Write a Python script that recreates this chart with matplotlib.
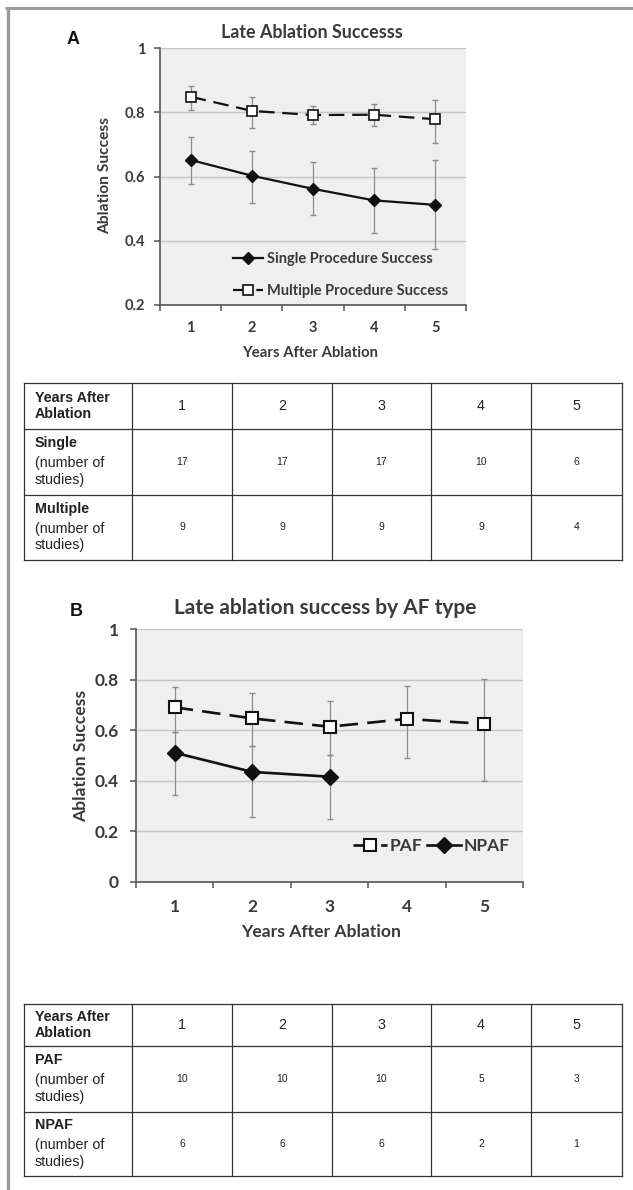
import matplotlib
matplotlib.use("Agg")
import matplotlib.pyplot as plt

# ---------------- data ----------------
years = [1, 2, 3, 4, 5]
year_labels = ["1", "2", "3", "4", "5"]

single_mean = [0.652, 0.603, 0.562, 0.526, 0.512]
single_hi = [0.725, 0.681, 0.645, 0.628, 0.651]
single_lo = [0.577, 0.518, 0.480, 0.425, 0.374]

multi_mean = [0.849, 0.805, 0.792, 0.793, 0.779]
multi_hi = [0.882, 0.847, 0.821, 0.827, 0.839]
multi_lo = [0.808, 0.751, 0.763, 0.758, 0.704]

paf_mean = [0.691, 0.647, 0.614, 0.645, 0.625]
paf_hi = [0.773, 0.746, 0.716, 0.777, 0.804]
paf_lo = [0.592, 0.539, 0.502, 0.489, 0.398]

npaf_years = [1, 2, 3]
npaf_mean = [0.511, 0.435, 0.416]
npaf_hi = [0.592, 0.539, 0.502]
npaf_lo = [0.345, 0.255, 0.247]

yticks_a = [0.2, 0.4, 0.6, 0.8, 1.0]
ytick_labels_a = ["0.2", "0.4", "0.6", "0.8", "1"]
yticks_b = [0, 0.2, 0.4, 0.6, 0.8, 1.0]
ytick_labels_b = ["0", "0.2", "0.4", "0.6", "0.8", "1"]

table_a_rows = [("Single", [17, 17, 17, 10, 6]),
                ("Multiple", [9, 9, 9, 9, 4])]
table_b_rows = [("PAF", [10, 10, 10, 5, 3]),
                ("NPAF", [6, 6, 6, 2, 1])]
table_header = "Years After\nAblation"
row_sub = "(number of\nstudies)"

# ---------------- layout helpers ----------------
W, H = 633, 1190
fig = plt.figure(figsize=(W / 100, H / 100), dpi=100)
FONT = "Lato"
TFONT = "Liberation Sans"
INK = "#3a3a3a"


def rect(l, t, r, b):
    return [l / W, 1 - b / H, (r - l) / W, (b - t) / H]


def ftext(x, y, s, **kw):
    fig.text(x / W, 1 - y / H, s, **kw)


def errs(mean, lo, hi):
    return [[m - l for m, l in zip(mean, lo)], [h - m for m, h in zip(mean, hi)]]


def style_axes(ax, ymin, yticks, ylabels, tick_fs, pad_x, pad_y, tlen):
    ax.set_facecolor("#efefef")
    ax.set_xlim(0.5, 5.5)
    ax.set_ylim(ymin, 1.0)
    ax.set_yticks(yticks)
    ax.set_yticklabels(ylabels, fontfamily=FONT, fontweight="bold",
                       fontsize=tick_fs, color=INK)
    ax.set_xticks(years)
    ax.set_xticklabels(year_labels, fontfamily=FONT, fontweight="bold",
                       fontsize=tick_fs, color=INK)
    ax.set_xticks([y + 0.5 for y in [0] + years], minor=True)
    ax.tick_params(axis="x", which="major", length=0, pad=pad_x)
    ax.tick_params(axis="x", which="minor", length=tlen, width=1.1,
                   color="#555555", direction="out")
    ax.tick_params(axis="y", which="major", length=tlen, width=1.1,
                   color="#555555", direction="out", pad=pad_y)
    ax.grid(axis="y", color="#c6c6c6", linewidth=1.0)
    ax.set_axisbelow(True)
    for s in ("top", "right"):
        ax.spines[s].set_visible(False)
    for s in ("left", "bottom"):
        ax.spines[s].set_color("#555555")
        ax.spines[s].set_linewidth(1.2)


# ---------------- panel A ----------------
axA = fig.add_axes(rect(160, 48.3, 466, 305))
style_axes(axA, 0.2, yticks_a, ytick_labels_a, 10.5, 11.5, 6, 4.5)
axA.errorbar(years, single_mean, yerr=errs(single_mean, single_lo, single_hi),
             fmt="none", ecolor="#8c8c8c", elinewidth=0.9, capsize=2.5, zorder=2)
axA.errorbar(years, multi_mean, yerr=errs(multi_mean, multi_lo, multi_hi),
             fmt="none", ecolor="#8c8c8c", elinewidth=0.9, capsize=2.5, zorder=2)
axA.plot(years, single_mean, color="#111111", lw=1.6, marker="D",
         markersize=6.5, markerfacecolor="#111111", markeredgecolor="#111111",
         zorder=3, label="Single Procedure Success")
axA.plot(years, multi_mean, color="#111111", lw=1.6, dashes=(7, 3.5),
         marker="s", markersize=7.5, markerfacecolor="white",
         markeredgecolor="#111111", markeredgewidth=1.2, zorder=3,
         label="Multiple Procedure Success")
legA = axA.legend(loc="upper left", bbox_to_anchor=(0.24, 0.205), frameon=False,
                  prop={"family": FONT, "weight": "bold", "size": 10.5},
                  handlelength=2.0, handletextpad=0.3, labelspacing=1.2,
                  borderpad=0, borderaxespad=0)
for t in legA.get_texts():
    t.set_color(INK)

ftext(312, 33, "Late Ablation Successs", ha="center", va="center",
      fontfamily=FONT, fontweight="bold", fontsize=12.9, color=INK)
ftext(310, 353, "Years After Ablation", ha="center", va="center",
      fontfamily=FONT, fontweight="bold", fontsize=10.7, color=INK)
ftext(105, 176, "Ablation Success", ha="center", va="center", rotation=90,
      fontfamily=FONT, fontweight="bold", fontsize=11.2, color=INK)
ftext(73, 40, "A", ha="center", va="center", fontfamily=TFONT,
      fontweight="bold", fontsize=13, color="#111111")

# ---------------- panel B ----------------
axB = fig.add_axes(rect(136, 629.3, 523, 881.7))
style_axes(axB, 0.0, yticks_b, ytick_labels_b, 12.5, 12.5, 8, 4.5)
axB.errorbar(years, paf_mean, yerr=errs(paf_mean, paf_lo, paf_hi),
             fmt="none", ecolor="#8c8c8c", elinewidth=0.9, capsize=2.5, zorder=2)
axB.errorbar(npaf_years, npaf_mean, yerr=errs(npaf_mean, npaf_lo, npaf_hi),
             fmt="none", ecolor="#8c8c8c", elinewidth=0.9, capsize=2.5, zorder=2)
axB.plot(years, paf_mean, color="#111111", lw=1.9, dashes=(7, 3.5),
         marker="s", markersize=8.5, markerfacecolor="white",
         markeredgecolor="#111111", markeredgewidth=1.5, zorder=3, label="PAF")
axB.plot(npaf_years, npaf_mean, color="#111111", lw=1.9, marker="D",
         markersize=8, markerfacecolor="#111111", markeredgecolor="#111111",
         zorder=3, label="NPAF")
legB = axB.legend(loc="center left", bbox_to_anchor=(0.56, 0.141), frameon=False,
                  ncol=2, prop={"family": FONT, "weight": "bold", "size": 12.5},
                  handlelength=2.0, handletextpad=0.12, columnspacing=0.25,
                  borderpad=0, borderaxespad=0)
for t in legB.get_texts():
    t.set_color(INK)

ftext(325, 608, "Late ablation success by AF type", ha="center", va="center",
      fontfamily=FONT, fontweight="bold", fontsize=15, color=INK)
ftext(321, 932, "Years After Ablation", ha="center", va="center",
      fontfamily=FONT, fontweight="bold", fontsize=12.6, color=INK)
ftext(81, 756, "Ablation Success", ha="center", va="center", rotation=90,
      fontfamily=FONT, fontweight="bold", fontsize=12.6, color=INK)
ftext(76, 612, "B", ha="center", va="center", fontfamily=TFONT,
      fontweight="bold", fontsize=13, color="#111111")

# ---------------- tables & frame ----------------
ov = fig.add_axes([0, 0, 1, 1])
ov.set_xlim(0, W)
ov.set_ylim(H, 0)
ov.axis("off")

# outer frame
ov.plot([5, W], [8, 8], color="#9a9a9a", lw=2.2, solid_capstyle="butt")
ov.plot([7.5, 7.5], [7, H], color="#9a9a9a", lw=2.4, solid_capstyle="butt")

col_x = [24, 132, 232, 332, 431, 531, 622]


def draw_table(top, hdr_bot, row_bots, rows):
    ys = [top, hdr_bot] + row_bots
    for y in ys:
        ov.plot([col_x[0], col_x[-1]], [y, y], color="#333333", lw=0.9)
    for x in col_x:
        ov.plot([x, x], [top, ys[-1]], color="#333333", lw=0.9)
    hc = (top + hdr_bot) / 2
    ov.text(col_x[0] + 11, hc, table_header, ha="left", va="center",
            fontfamily=TFONT, fontweight="bold", fontsize=10.3,
            color="#222222", linespacing=1.15)
    for i, lab in enumerate(year_labels):
        cx = (col_x[i + 1] + col_x[i + 2]) / 2
        ov.text(cx, hc, lab, ha="center", va="center", fontfamily=TFONT,
                fontsize=10.3, color="#222222")
    prev = hdr_bot
    for (name, vals), bot in zip(rows, row_bots):
        rc = (prev + bot) / 2
        ov.text(col_x[0] + 11, rc - 19, name, ha="left", va="center",
                fontfamily=TFONT, fontweight="bold", fontsize=10.3,
                color="#222222")
        ov.text(col_x[0] + 11, rc + 9.5, row_sub, ha="left", va="center",
                fontfamily=TFONT, fontsize=10.3, color="#222222",
                linespacing=1.2)
        for i, v in enumerate(vals):
            cx = (col_x[i + 1] + col_x[i + 2]) / 2
            ov.text(cx, rc, str(v), ha="center", va="center",
                    fontfamily=TFONT, fontsize=7.5, color="#222222")
        prev = bot


draw_table(383, 429, [495, 560], table_a_rows)
draw_table(1004, 1046, [1112, 1176], table_b_rows)

fig.savefig("out.png", dpi=100)
